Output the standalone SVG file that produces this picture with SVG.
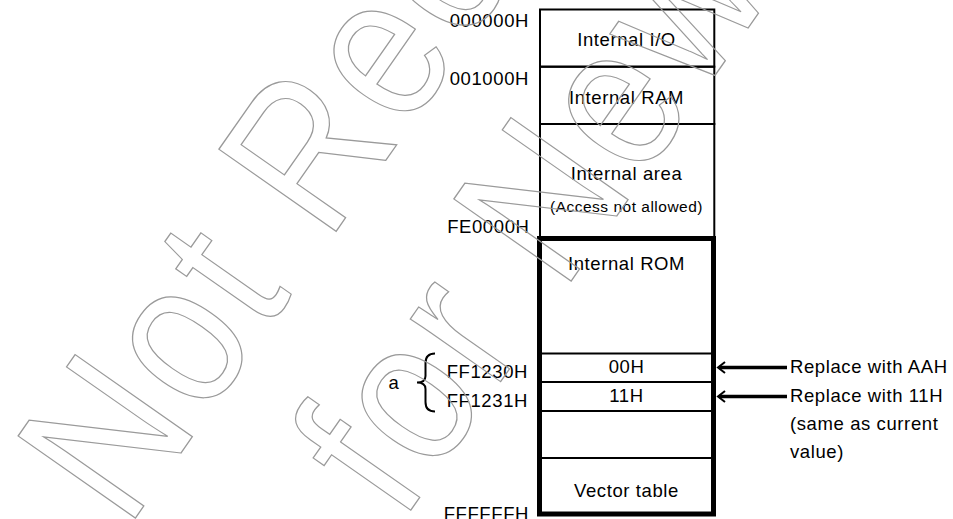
<svg xmlns="http://www.w3.org/2000/svg" width="953" height="519" viewBox="0 0 953 519">
<style>
  text { font-family: "Liberation Sans", Arial, sans-serif; fill: #000; }
  .t { font-size: 18.5px; letter-spacing: 0.6px; }
  .s { font-size: 15.5px; letter-spacing: 0.5px; }
  .c { text-anchor: middle; }
  .e { text-anchor: end; }
  .thin { fill: none; stroke: #000; stroke-width: 2; }
  .thick { fill: none; stroke: #000; stroke-width: 5; }
  .arr { fill: none; stroke: #000; stroke-width: 3.5; }
  .head { fill: none; stroke: #000; stroke-width: 2; stroke-linejoin: miter; }
  .brace { fill: none; stroke: #000; stroke-width: 2; }
  .wm { font-family: "Liberation Sans", Arial, sans-serif; font-size: 208px; letter-spacing: 7px; fill: none; stroke: #9a9a9a; stroke-width: 1.3; }
</style>
<rect width="953" height="519" fill="#fff"/>

<g id="internal-io">
  <rect x="540" y="9.5" width="174.3" height="57.2" class="thin"/>
  <text class="t c" x="626.5" y="45.7">Internal I/O</text>
  <text class="t e" x="529" y="26.7">000000H</text>
</g>
<g id="internal-ram">
  <rect x="540" y="66.7" width="174.3" height="57.3" class="thin"/>
  <text class="t c" x="626.5" y="104.3">Internal RAM</text>
  <text class="t e" x="529" y="85">001000H</text>
</g>
<g id="internal-area">
  <rect x="540" y="124" width="174.3" height="114.5" class="thin"/>
  <text class="t c" x="626.5" y="180">Internal area</text>
  <text class="s c" x="626.5" y="211.5">(Access not allowed)</text>
  <text class="t e" x="529.5" y="233.3">FE0000H</text>
</g>
<g id="internal-rom">
  <rect x="539.5" y="238.5" width="174" height="275.5" class="thick"/>
  <text class="t c" x="626.5" y="270">Internal ROM</text>
  <text class="t e" x="529" y="519.5">FFFFFFH</text>
</g>
<g id="cell-ff1230">
  <line x1="542" y1="353.5" x2="711" y2="353.5" class="thin"/>
  <text class="t c" x="626.5" y="373.3">00H</text>
  <text class="t e" x="528" y="378.3">FF1230H</text>
</g>
<g id="cell-ff1231">
  <line x1="542" y1="382" x2="711" y2="382" class="thin"/>
  <line x1="542" y1="411" x2="711" y2="411" class="thin"/>
  <text class="t c" x="626.5" y="402.3">11H</text>
  <text class="t e" x="528" y="406.7">FF1231H</text>
</g>
<g id="vector-table">
  <line x1="542" y1="458" x2="711" y2="458" class="thin"/>
  <text class="t c" x="626.5" y="496.7">Vector table</text>
</g>
<g id="label-a">
  <text class="t" x="388.5" y="389.3">a</text>
</g>
<g id="note-aah">
  <text class="t" x="790" y="373.3">Replace with AAH</text>
</g>
<g id="note-11h">
  <text class="t" x="790" y="401.7">Replace with 11H</text>
  <text class="t" x="790" y="430">(same as current</text>
  <text class="t" x="790" y="458.3">value)</text>
</g>

<g id="connectors">
  <path class="brace" d="M435,353.5 Q425.5,353.5 425.5,363 V376 Q425.5,382.5 417,382.5 Q425.5,382.5 425.5,389 V402 Q425.5,411.5 435,411.5"/>
  <line class="arr" x1="787" y1="367.5" x2="719" y2="367.5"/>
  <polyline class="head" points="725,362 718,367.5 725,373"/>
  <line class="arr" x1="787" y1="396.5" x2="719" y2="396.5"/>
  <polyline class="head" points="725,391 718,396.5 725,402"/>
</g>

<g id="watermark" transform="translate(127,529.9) rotate(-55) scale(0.855,1)">
  <text class="wm" x="0" y="0">Not Recommended</text>
  <text class="wm" x="190.9" y="221">for New Design</text>
</g>
</svg>
